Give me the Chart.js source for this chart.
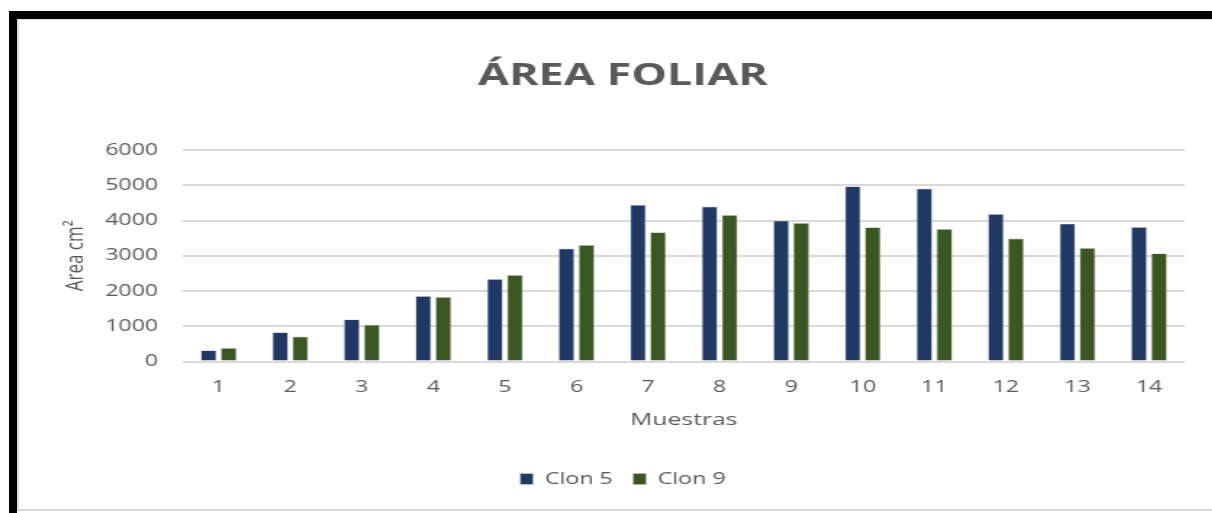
<!DOCTYPE html>
<html>
<head>
<meta charset="utf-8">
<title>Área foliar</title>
<script src="https://cdn.jsdelivr.net/npm/chart.js@4"></script>
<style>
    body { margin: 0; background: #fff; width: 1212px; height: 513px; overflow: hidden; position: relative; }
    #marco { position: absolute; left: 9px; top: 11px; width: 1203px; height: 502px; box-sizing: border-box;
             border-top: 8px solid #000; border-left: 8px solid #000; }
    #interior { position: absolute; left: 17px; top: 19px; width: 1195px; height: 492px; box-sizing: border-box;
                border-left: 2px solid #d9d9d9; border-top: 1px solid #e3e3e3; border-bottom: 2px solid #d9d9d9; }
    #lienzo { position: absolute; left: 19px; top: 20px; width: 823px; height: 489px;
              transform: scaleX(1.45); transform-origin: 0 0; }
</style>
</head>
<body>
<div id="marco"></div>
<div id="interior"></div>
<div id="lienzo"><canvas id="area-chart" width="823" height="489"></canvas></div>
<script>
// Datos
var muestras = ["1", "2", "3", "4", "5", "6", "7", "8", "9", "10", "11", "12", "13", "14"];
var clon5 = [320, 830, 1195, 1860, 2340, 3210, 4450, 4400, 4000, 4975, 4910, 4190, 3915, 3820];
var clon9 = [380, 710, 1040, 1830, 2455, 3310, 3670, 4160, 3930, 3810, 3760, 3490, 3220, 3070];
var ticksY = [0, 1000, 2000, 3000, 4000, 5000, 6000];

var gris = '#595959';
var fuente = 'Open Sans';

// Dibujar grafico de barras agrupadas
function drawAreaChart() {
    var ctx = document.getElementById('area-chart').getContext('2d');
    var areaChart = new Chart(ctx, {
        type: 'bar',
        data: {
            labels: muestras,
            datasets: [{
                label: 'Clon 5',
                data: clon5,
                backgroundColor: '#1f3864',
                borderColor: '#c3cad6',
                borderWidth: 0.7,
                barPercentage: 0.8,
                categoryPercentage: 0.56
            }, {
                label: 'Clon 9',
                data: clon9,
                backgroundColor: '#3a5623',
                borderColor: '#b9c4ae',
                borderWidth: 0.7,
                barPercentage: 0.8,
                categoryPercentage: 0.56
            }]
        },
        options: {
            responsive: false,
            animation: false,
            devicePixelRatio: 1,
            layout: { padding: { top: 20, left: 29, right: 19, bottom: 12 } },
            plugins: {
                title: {
                    display: true,
                    text: 'ÁREA FOLIAR',
                    color: gris,
                    font: { family: fuente, size: 31, weight: 'bold' },
                    padding: { top: 18, bottom: 55 }
                },
                legend: {
                    position: 'bottom',
                    labels: {
                        color: gris,
                        font: { family: fuente, size: 16 },
                        boxWidth: 9,
                        boxHeight: 11,
                        padding: 14
                    }
                },
                tooltip: { enabled: false }
            },
            scales: {
                x: {
                    grid: { display: false, drawTicks: false },
                    border: { display: false },
                    ticks: { color: gris, font: { family: fuente, size: 16 }, padding: 16 },
                    title: {
                        display: true,
                        text: 'Muestras',
                        color: gris,
                        font: { family: fuente, size: 17, lineHeight: 0.9 },
                        padding: { top: 0, bottom: 29 }
                    }
                },
                y: {
                    min: 0,
                    max: 6000,
                    afterBuildTicks: function(scale) {
                        scale.ticks = ticksY.map(function(v) { return { value: v }; });
                    },
                    afterFit: function(scale) { scale.width = 84; },
                    grid: { color: '#d9d9d9', lineWidth: 2, drawTicks: false },
                    border: { display: false },
                    ticks: {
                        color: gris,
                        font: { family: fuente, size: 16 },
                        padding: 17,
                        callback: function(v) { return String(v); }
                    },
                    title: {
                        display: true,
                        text: 'Area cm²',
                        color: gris,
                        font: { family: fuente, size: 17 },
                        padding: 0
                    }
                }
            }
        }
    });
}

drawAreaChart();
</script>
</body>
</html>
